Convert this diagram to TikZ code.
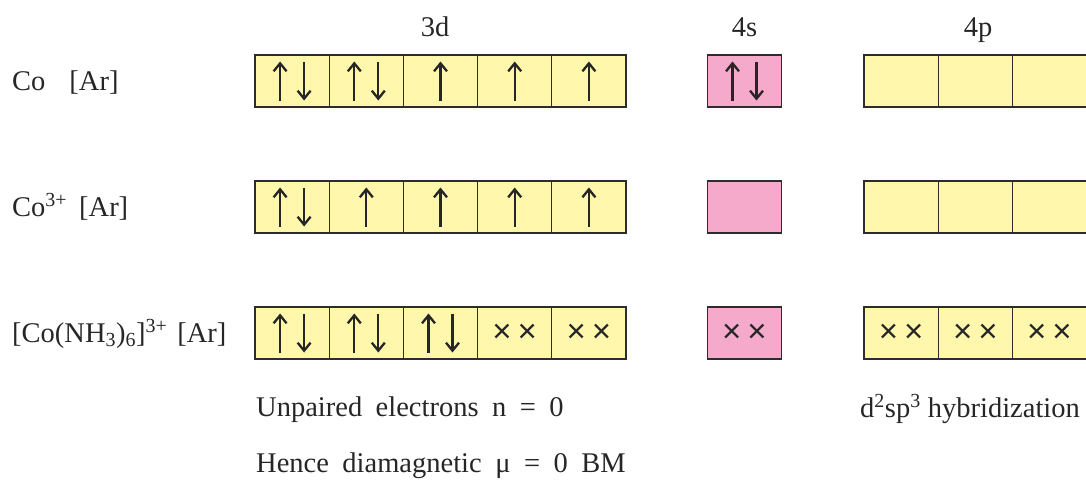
\documentclass[tikz,border=0pt]{standalone}
\usepackage{fontspec}
\setmainfont{Liberation Serif}
\newfontfamily\crossfont{Liberation Sans}
\usetikzlibrary{arrows.meta, positioning}
\definecolor{orbyellow}{RGB}{255,247,172}
\definecolor{orbpink}{RGB}{245,170,204}
\definecolor{orbline}{RGB}{45,45,45}

% one spin pair / one spin in an orbital box
\newcommand{\spinpair}[1]{%
  \draw[spin] ([xshift=-12pt, yshift=-19.5pt]#1.center) -- ([xshift=-12pt, yshift=19.5pt]#1.center);
  \draw[spin] ([xshift=12pt, yshift=19.5pt]#1.center) -- ([xshift=12pt, yshift=-19.5pt]#1.center);}
\newcommand{\spinup}[1]{%
  \draw[spin] ([yshift=-19.5pt]#1.center) -- ([yshift=19.5pt]#1.center);}
\newcommand{\widewords}{\spaceskip=13.5pt\relax}

\begin{document}
\begin{tikzpicture}[
      x=1pt, y=-1pt,
      orb/.style={rectangle, draw=orbline, line width=1.1pt, fill=orbyellow,
                  minimum width=74.2pt, minimum height=52pt, inner sep=0pt, outer sep=0pt},
      sorb/.style={orb, fill=orbpink},
      spin/.style={-{Straight Barb[length=8pt, width=13pt]}, line width=2.3pt, draw=black!85},
      lbl/.style={font=\fontsize{28.5}{32}\selectfont, inner sep=0pt, text=black!85},
      note/.style={lbl, execute at begin node=\widewords},
      lone/.style={font=\crossfont\fontsize{33}{36}\selectfont, inner sep=0pt, text=black!85}
    ]
    \useasboundingbox (0,0) rectangle (1086,479);

    % orbital boxes
    \foreach \r/\y in {a/81, b/207, c/333} {
      \foreach \i in {1,...,5}
        \node[orb] (\r d\i) at ({255+74.2*\i-37.1}, \y) {};
      \node[sorb] (\r s) at (744.5, \y) {};
      \foreach \i in {1,2,3}
        \node[orb] (\r p\i) at ({864+74.2*\i-37.1}, \y) {};
    }

    % subshell labels
    \node[lbl, anchor=base] (l3d) at (435, 36) {3d};
    \node[lbl, anchor=base] (l4s) at (744.5, 36) {4s};
    \node[lbl, anchor=base] (l4p) at (978, 36) {4p};

    % species
    \node[lbl, anchor=base west] (co) at (12, 90) {Co\hspace{24pt}[Ar]};
    \node[lbl, anchor=base west] (co3) at (12, 216) {Co\textsuperscript{3+}\hspace{12pt}[Ar]};
    \node[lbl, anchor=base west] (cplx) at (12, 342)
      {[Co(NH\textsubscript{3})\textsubscript{6}]\textsuperscript{3+}\hspace{10pt}[Ar]};

    % Co
    \spinpair{ad1} \spinpair{ad2}
    \spinup{ad3} \spinup{ad4} \spinup{ad5}
    \spinpair{as}
    % Co3+
    \spinpair{bd1}
    \spinup{bd2} \spinup{bd3} \spinup{bd4} \spinup{bd5}
    % complex
    \spinpair{cd1} \spinpair{cd2} \spinpair{cd3}
    \foreach \b in {cd4, cd5, cs, cp1, cp2, cp3}
      \node[lone] at (\b) {×\kern6pt×};

    % notes
    \node[note, anchor=base west] (unp) at (256, 416) {Unpaired electrons n = 0};
    \node[note, anchor=base west] (dia) at (256, 472) {Hence diamagnetic μ = 0 BM};
    \node[lbl, anchor=base west] (hyb) at (860, 417) {d\textsuperscript{2}sp\textsuperscript{3} hybridization};
  \end{tikzpicture}
\end{document}
